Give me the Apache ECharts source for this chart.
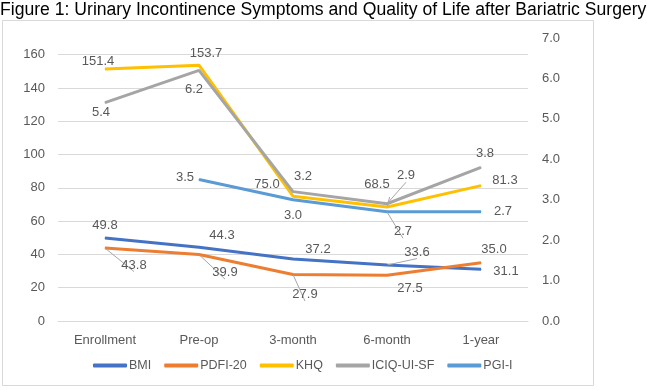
<!DOCTYPE html>
<html>
<head>
<meta charset="utf-8">
<script src="https://cdn.jsdelivr.net/npm/echarts@6/dist/echarts.min.js"></script>
<style>
  html, body { margin: 0; padding: 0; background: #fff; }
  #chart { width: 647px; height: 390px; }
</style>
</head>
<body>
<div id="chart"></div>
<script>
const categories = ['Enrollment', 'Pre-op', '3-month', '6-month', '1-year'];
const bmi = [49.8, 44.3, 37.2, 33.6, 31.1];
const pdfi20 = [43.8, 39.9, 27.9, 27.5, 35.0];
const khq = [151.4, 153.7, 75.0, 68.5, 81.3];
const iciq = [5.4, 6.2, 3.2, 2.9, 3.8];
const pgii = [null, 3.5, 3.0, 2.7, 2.7];

// label offsets from each point, [dx, dy] in px
const bmiOffsets = [[0, -13], [23, -12], [25, -10], [30, -13], [25, 2]];
const pdfiOffsets = [[29, 17], [26, 18], [12, 20], [23, 13], [13, -13]];
const khqOffsets = [[-7, -8], [7, -12], [-26, -12], [-10, -23], [24, -5]];
const iciqOffsets = [[-4, 10], [-5, 19], [10, -15], [19, -28], [4, -14]];
const pgiOffsets = [[0, 0], [-14, -2], [0, 16], [16, 20], [22, 0]];

const textColor = '#595959';
const font = 'Liberation Sans';

function points(values, offsets, leaders) {
    return values.map(function (v, i) {
        if (v === null) return null;
        const item = {
            value: v,
            label: { offset: offsets[i] }
        };
        if (leaders && leaders.indexOf(i) >= 0) {
            item.labelLine = { show: true, lineStyle: { color: '#a6a6a6', width: 1 } };
        }
        return item;
    });
}

function makeSeries(name, values, offsets, color, axis, leaders) {
    return {
        name: name,
        type: 'line',
        yAxisIndex: axis,
        data: points(values, offsets, leaders),
        symbol: 'circle',
        symbolSize: 1,
        showSymbol: true,
        connectNulls: false,
        lineStyle: { color: color, width: 3 },
        itemStyle: { color: color },
        label: {
            show: true,
            position: 'inside',
            color: textColor,
            fontFamily: font,
            fontSize: 13,
            formatter: function (p) {
                return p.value.toFixed(1);
            }
        },
        emphasis: { disabled: true }
    };
}

const chart = echarts.init(document.getElementById('chart'));
chart.setOption({
    animation: false,
    backgroundColor: '#fff',
    title: {
        text: 'Figure 1: Urinary Incontinence Symptoms and Quality of Life after Bariatric Surgery',
        left: 0,
        top: 1,
        padding: 0,
        textStyle: {
            fontFamily: font,
            fontSize: 17.6,
            fontWeight: 'normal',
            color: '#000'
        }
    },
    graphic: [{
        type: 'rect',
        shape: { x: 2.5, y: 20.5, width: 591, height: 365 },
        style: { fill: null, stroke: '#d9d9d9', lineWidth: 1 },
        silent: true,
        z: -1
    }],
    grid: { left: 58, right: 119, top: 38, bottom: 69 },
    legend: {
        bottom: 13,
        left: 88,
        itemWidth: 34,
        itemHeight: 4,
        itemGap: 13,
        icon: 'roundRect',
        textStyle: { color: textColor, fontFamily: font, fontSize: 12.5, padding: [0, 0, 0, -3] },
        data: ['BMI', 'PDFI-20', 'KHQ', 'ICIQ-UI-SF', 'PGI-I']
    },
    xAxis: {
        type: 'category',
        data: categories,
        boundaryGap: true,
        axisLine: { lineStyle: { color: '#d9d9d9' } },
        axisTick: { show: false },
        axisLabel: { color: textColor, fontFamily: font, fontSize: 13, margin: 13 }
    },
    yAxis: [{
        type: 'value',
        min: 0,
        max: 170,
        interval: 20,
        axisLine: { show: false },
        axisTick: { show: false },
        axisLabel: { color: textColor, fontFamily: font, fontSize: 13, margin: 13, showMaxLabel: false },
        splitLine: { lineStyle: { color: '#d9d9d9' }, showMaxLine: false }
    }, {
        type: 'value',
        min: 0,
        max: 7,
        interval: 1,
        axisLine: { show: false },
        axisTick: { show: false },
        splitLine: { show: false },
        axisLabel: {
            color: textColor, fontFamily: font, fontSize: 13, margin: 14,
            formatter: function (v) { return v.toFixed(1); }
        }
    }],
    series: [
        makeSeries('BMI', bmi, bmiOffsets, '#4472C4', 0, [3]),
        makeSeries('PDFI-20', pdfi20, pdfiOffsets, '#ED7D31', 0, [0, 1, 2]),
        makeSeries('KHQ', khq, khqOffsets, '#FFC000', 0, [3]),
        makeSeries('ICIQ-UI-SF', iciq, iciqOffsets, '#A5A5A5', 1, [3]),
        makeSeries('PGI-I', pgii, pgiOffsets, '#5B9BD5', 1, [3])
    ]
});
</script>
</body>
</html>
